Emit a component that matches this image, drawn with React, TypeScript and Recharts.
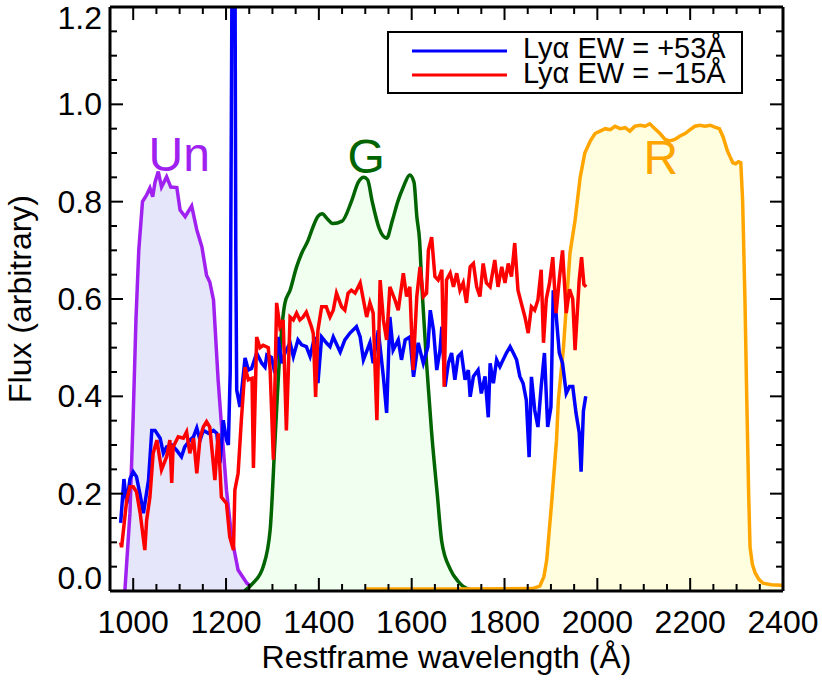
import { Area, ComposedChart, Legend, Line, ReferenceDot, XAxis, YAxis } from "recharts"

const FONT = "'Liberation Sans', Arial, Helvetica, sans-serif"

// rest-frame wavelength (Å) and flux of the two composite spectra
const blueWave = [973, 980, 986, 993, 1000, 1007, 1015, 1022, 1033, 1040, 1047, 1058, 1065, 1072, 1083, 1093, 1104, 1111, 1122, 1130, 1137, 1144, 1151, 1162, 1173, 1180, 1187, 1194, 1201, 1205, 1209, 1213, 1216, 1219, 1221, 1223, 1230, 1241, 1248, 1255, 1266, 1277, 1284, 1288, 1298, 1305, 1312, 1320, 1327, 1338, 1345, 1355, 1363, 1373, 1381, 1391, 1398, 1406, 1416, 1424, 1431, 1446, 1456, 1467, 1481, 1489, 1496, 1510, 1517, 1528, 1539, 1546, 1553, 1560, 1571, 1578, 1586, 1596, 1604, 1614, 1625, 1635, 1640, 1647, 1654, 1661, 1665, 1672, 1679, 1686, 1693, 1700, 1707, 1715, 1722, 1726, 1733, 1743, 1750, 1758, 1765, 1769, 1776, 1783, 1790, 1797, 1804, 1812, 1819, 1826, 1833, 1840, 1847, 1853, 1858, 1865, 1872, 1879, 1886, 1893, 1900, 1905, 1911, 1918, 1925, 1933, 1940, 1947, 1954, 1961, 1965, 1970, 1975]
const blueFlux = [0.14, 0.23, 0.18, 0.23, 0.245, 0.235, 0.197, 0.16, 0.228, 0.33, 0.33, 0.314, 0.283, 0.296, 0.3, 0.29, 0.276, 0.296, 0.31, 0.317, 0.335, 0.31, 0.33, 0.324, 0.33, 0.324, 0.263, 0.351, 0.31, 0.3, 0.45, 1.3, 1.6, 1.4, 0.7, 0.413, 0.378, 0.479, 0.454, 0.457, 0.489, 0.468, 0.46, 0.485, 0.48, 0.448, 0.522, 0.468, 0.489, 0.51, 0.482, 0.516, 0.506, 0.502, 0.482, 0.522, 0.427, 0.522, 0.51, 0.502, 0.522, 0.491, 0.516, 0.53, 0.543, 0.522, 0.475, 0.51, 0.468, 0.536, 0.44, 0.366, 0.563, 0.495, 0.516, 0.475, 0.516, 0.522, 0.44, 0.51, 0.468, 0.502, 0.577, 0.536, 0.454, 0.495, 0.543, 0.42, 0.468, 0.489, 0.434, 0.482, 0.489, 0.434, 0.454, 0.399, 0.441, 0.454, 0.406, 0.441, 0.357, 0.468, 0.427, 0.475, 0.461, 0.475, 0.489, 0.502, 0.489, 0.475, 0.441, 0.427, 0.392, 0.275, 0.44, 0.372, 0.337, 0.42, 0.489, 0.337, 0.378, 0.618, 0.57, 0.489, 0.468, 0.406, 0.42, 0.42, 0.366, 0.325, 0.245, 0.37, 0.4]

const redWave = [973, 975, 986, 993, 1000, 1007, 1015, 1025, 1029, 1036, 1043, 1051, 1061, 1072, 1079, 1083, 1086, 1097, 1108, 1115, 1122, 1130, 1137, 1144, 1151, 1158, 1165, 1176, 1183, 1190, 1201, 1208, 1216, 1219, 1226, 1233, 1241, 1248, 1256, 1259, 1266, 1273, 1280, 1291, 1295, 1302, 1309, 1316, 1323, 1330, 1338, 1345, 1352, 1359, 1366, 1373, 1384, 1388, 1393, 1398, 1406, 1416, 1424, 1431, 1438, 1449, 1456, 1463, 1470, 1478, 1489, 1496, 1503, 1510, 1517, 1525, 1532, 1539, 1546, 1553, 1564, 1571, 1582, 1589, 1596, 1603, 1611, 1618, 1625, 1632, 1636, 1643, 1650, 1657, 1665, 1670, 1675, 1683, 1690, 1697, 1704, 1711, 1718, 1726, 1733, 1740, 1747, 1754, 1761, 1769, 1779, 1786, 1794, 1801, 1808, 1815, 1822, 1829, 1836, 1844, 1851, 1858, 1865, 1872, 1879, 1884, 1890, 1897, 1904, 1911, 1918, 1925, 1933, 1940, 1947, 1952, 1961, 1966, 1971, 1976]
const redFlux = [0.1, 0.09, 0.187, 0.214, 0.214, 0.204, 0.16, 0.084, 0.146, 0.193, 0.283, 0.31, 0.249, 0.276, 0.31, 0.222, 0.296, 0.317, 0.314, 0.327, 0.283, 0.314, 0.242, 0.314, 0.337, 0.348, 0.337, 0.228, 0.324, 0.193, 0.18, 0.111, 0.084, 0.207, 0.242, 0.351, 0.46, 0.434, 0.437, 0.253, 0.522, 0.5, 0.505, 0.5, 0.454, 0.27, 0.592, 0.543, 0.557, 0.33, 0.563, 0.557, 0.571, 0.557, 0.563, 0.573, 0.543, 0.529, 0.399, 0.536, 0.584, 0.584, 0.563, 0.577, 0.612, 0.584, 0.577, 0.612, 0.618, 0.612, 0.633, 0.598, 0.563, 0.592, 0.571, 0.351, 0.639, 0.557, 0.516, 0.625, 0.598, 0.577, 0.653, 0.605, 0.625, 0.454, 0.605, 0.666, 0.605, 0.612, 0.7, 0.727, 0.646, 0.639, 0.66, 0.42, 0.639, 0.653, 0.625, 0.653, 0.618, 0.633, 0.592, 0.666, 0.673, 0.625, 0.605, 0.673, 0.633, 0.625, 0.68, 0.625, 0.666, 0.633, 0.673, 0.646, 0.715, 0.618, 0.592, 0.563, 0.53, 0.584, 0.577, 0.598, 0.66, 0.51, 0.6, 0.633, 0.686, 0.571, 0.64, 0.7, 0.571, 0.62, 0.6, 0.495, 0.64, 0.686, 0.63, 0.625]

// filter transmission curves
const unWave = [982, 993, 1000, 1006, 1012, 1020, 1029, 1036, 1042, 1047, 1054, 1061, 1072, 1081, 1094, 1101, 1112, 1126, 1137, 1148, 1158, 1165, 1173, 1183, 1191, 1201, 1212, 1226, 1245, 1258, 1270]
const unTrans = [0, 0.16, 0.36, 0.56, 0.7, 0.8, 0.814, 0.828, 0.81, 0.84, 0.862, 0.83, 0.851, 0.83, 0.829, 0.783, 0.769, 0.791, 0.742, 0.707, 0.649, 0.635, 0.598, 0.433, 0.33, 0.207, 0.111, 0.043, 0.016, 0.006, 0]

const gWave = [1240, 1258, 1280, 1295, 1305, 1316, 1327, 1338, 1352, 1363, 1377, 1385, 1398, 1407, 1418, 1430, 1450, 1470, 1485, 1497, 1505, 1515, 1530, 1546, 1558, 1570, 1582, 1596, 1605, 1611, 1617, 1622, 1632, 1643, 1655, 1665, 1683, 1700, 1720, 1750]
const gTrans = [0, 0.016, 0.05, 0.125, 0.3, 0.49, 0.592, 0.618, 0.666, 0.694, 0.721, 0.742, 0.77, 0.775, 0.765, 0.755, 0.76, 0.8, 0.84, 0.85, 0.845, 0.8, 0.745, 0.725, 0.76, 0.8, 0.83, 0.855, 0.84, 0.77, 0.72, 0.625, 0.468, 0.325, 0.2, 0.1, 0.045, 0.02, 0.005, 0]

const rWave = [1500, 1700, 1860, 1876, 1885, 1891, 1902, 1912, 1916, 1927, 1934, 1941, 1952, 1963, 1973, 1985, 1995, 2006, 2017, 2028, 2038, 2049, 2060, 2070, 2081, 2092, 2103, 2113, 2124, 2135, 2146, 2156, 2167, 2178, 2189, 2200, 2210, 2221, 2232, 2243, 2253, 2263, 2271, 2280, 2286, 2292, 2298, 2304, 2309, 2313, 2318, 2322, 2326, 2329, 2334, 2340, 2348, 2357, 2375, 2397, 2400]
const rTrans = [0.004, 0.004, 0.005, 0.01, 0.03, 0.064, 0.187, 0.31, 0.392, 0.5, 0.598, 0.694, 0.762, 0.85, 0.9, 0.925, 0.94, 0.945, 0.95, 0.948, 0.955, 0.95, 0.952, 0.945, 0.955, 0.957, 0.955, 0.96, 0.95, 0.94, 0.928, 0.925, 0.928, 0.935, 0.94, 0.948, 0.955, 0.957, 0.955, 0.957, 0.953, 0.95, 0.933, 0.905, 0.892, 0.88, 0.878, 0.882, 0.88, 0.803, 0.6, 0.392, 0.2, 0.09, 0.055, 0.037, 0.024, 0.016, 0.013, 0.012, 0.012]

const xTicks = [1000, 1050, 1100, 1150, 1200, 1250, 1300, 1350, 1400, 1450, 1500, 1550, 1600, 1650, 1700, 1750, 1800, 1850, 1900, 1950, 2000, 2050, 2100, 2150, 2200, 2250, 2300, 2350, 2400]
const yTicks = [0, 0.05, 0.1, 0.15, 0.2, 0.25, 0.3, 0.35, 0.4, 0.45, 0.5, 0.55, 0.6, 0.65, 0.7, 0.75, 0.8, 0.85, 0.9, 0.95, 1.0, 1.05, 1.1, 1.15, 1.2]

const legendLabels = ["Lyα EW = +53Å", "Lyα EW = −15Å"]

const toPoints = (w: number[], v: number[]) => w.map((x, i) => ({ w: x, f: v[i] }))

const blueData = toPoints(blueWave, blueFlux)
const redData = toPoints(redWave, redFlux)
const unData = toPoints(unWave, unTrans)
const gData = toPoints(gWave, gTrans)
const rData = toPoints(rWave, rTrans)

const isMajorX = (v: number) => v % 200 === 0
const isMajorY = (v: number) => Math.abs(v * 5 - Math.round(v * 5)) < 1e-6

function BottomTick(props: any) {
    const { x, y, payload } = props
    const major = isMajorX(payload.value)
    return (
        <g>
            <line x1={x} x2={x} y1={y} y2={y - (major ? 13 : 7)} stroke="#000" strokeWidth={2} />
            {major && (
                <text x={x} y={y + 42} textAnchor="middle" fontSize={32} fontFamily={FONT} fill="#000">
                    {payload.value}
                </text>
            )}
        </g>
    )
}

function TopTick(props: any) {
    const { x, y, payload } = props
    const major = isMajorX(payload.value)
    return <line x1={x} x2={x} y1={y} y2={y + (major ? 13 : 7)} stroke="#000" strokeWidth={2} />
}

function LeftTick(props: any) {
    const { x, y, payload } = props
    const v = payload.value
    const major = isMajorY(v)
    // end labels are kept inside the frame
    const cy = Math.min(Math.max(y, 18), 578)
    return (
        <g>
            <line x1={x} x2={x + (major ? 13 : 7)} y1={y} y2={y} stroke="#000" strokeWidth={2} />
            {major && (
                <text x={x - 8} y={cy + 11} textAnchor="end" fontSize={32} fontFamily={FONT} fill="#000">
                    {v.toFixed(1)}
                </text>
            )}
        </g>
    )
}

function RightTick(props: any) {
    const { x, y, payload } = props
    const major = isMajorY(payload.value)
    return <line x1={x} x2={x - (major ? 13 : 7)} y1={y} y2={y} stroke="#000" strokeWidth={2} />
}

function LegendBox() {
    return (
        <svg width={357} height={64} style={{ display: "block" }}>
            <rect x={1} y={1} width={354} height={61} fill="#fff" stroke="#000" strokeWidth={2} />
            <line x1={25} x2={120} y1={20} y2={20} stroke="#0000ff" strokeWidth={3} />
            <line x1={25} x2={120} y1={44} y2={44} stroke="#ff0000" strokeWidth={3} />
            <text x={136} y={27} fontSize={29} fontFamily={FONT} fill="#000">{legendLabels[0]}</text>
            <text x={136} y={52} fontSize={29} fontFamily={FONT} fill="#000">{legendLabels[1]}</text>
        </svg>
    )
}

export default function App() {
    return (
        <div style={{ position: "absolute", left: 0, top: 0, fontFamily: FONT }}>
            <ComposedChart width={822} height={680} margin={{ top: 0, right: 0, bottom: 0, left: 0 }}>
                <XAxis
                    dataKey="w"
                    type="number"
                    domain={[950, 2400]}
                    allowDataOverflow
                    ticks={xTicks}
                    interval={0}
                    height={89}
                    tickSize={0}
                    tickMargin={0}
                    tickLine={false}
                    axisLine={{ stroke: "#000", strokeWidth: 3 }}
                    tick={(p: any) => <BottomTick {...p} />}
                    label={{ value: "Restframe wavelength (Å)", position: "insideBottom", offset: 12, fontSize: 32, fill: "#000", fontFamily: FONT }}
                />
                <XAxis
                    xAxisId="top"
                    orientation="top"
                    dataKey="w"
                    type="number"
                    domain={[950, 2400]}
                    allowDataOverflow
                    ticks={xTicks}
                    interval={0}
                    height={7}
                    tickSize={0}
                    tickMargin={0}
                    tickLine={false}
                    axisLine={{ stroke: "#000", strokeWidth: 3 }}
                    tick={(p: any) => <TopTick {...p} />}
                />
                <YAxis
                    type="number"
                    domain={[0, 1.2]}
                    allowDataOverflow
                    ticks={yTicks}
                    interval={0}
                    width={110}
                    tickSize={0}
                    tickMargin={0}
                    tickLine={false}
                    axisLine={{ stroke: "#000", strokeWidth: 3 }}
                    tick={(p: any) => <LeftTick {...p} />}
                    label={{ value: "Flux (arbitrary)", angle: -90, position: "insideLeft", offset: 20, fontSize: 32, fill: "#000", fontFamily: FONT, style: { textAnchor: "middle" } }}
                />
                <YAxis
                    yAxisId="right"
                    orientation="right"
                    type="number"
                    domain={[0, 1.2]}
                    allowDataOverflow
                    ticks={yTicks}
                    interval={0}
                    width={39}
                    tickSize={0}
                    tickMargin={0}
                    tickLine={false}
                    axisLine={{ stroke: "#000", strokeWidth: 3 }}
                    tick={(p: any) => <RightTick {...p} />}
                />
                <Area data={unData} dataKey="f" type="linear" baseValue={0} stroke="#a020f0" strokeWidth={3.5} fill="#e6e6fa" fillOpacity={1} isAnimationActive={false} />
                <Area data={gData} dataKey="f" type="monotone" baseValue={0} stroke="#006400" strokeWidth={3.5} fill="#f0fff0" fillOpacity={1} isAnimationActive={false} />
                <Area data={rData} dataKey="f" type="linear" baseValue={0} stroke="#ffa500" strokeWidth={3.5} fill="#ffffe0" fillOpacity={1} isAnimationActive={false} />
                <Line data={blueData} dataKey="f" type="linear" stroke="#0000ff" strokeWidth={3.5} dot={false} activeDot={false} isAnimationActive={false} />
                <Line data={redData} dataKey="f" type="linear" stroke="#ff0000" strokeWidth={3.5} dot={false} activeDot={false} isAnimationActive={false} />
                <ReferenceDot x={1099} y={0.898} r={0} fill="none" stroke="none" label={{ value: "Un", position: "center", fontSize: 48, fill: "#a020f0", fontFamily: FONT }} />
                <ReferenceDot x={1502} y={0.894} r={0} fill="none" stroke="none" label={{ value: "G", position: "center", fontSize: 48, fill: "#006400", fontFamily: FONT }} />
                <ReferenceDot x={2137} y={0.892} r={0} fill="none" stroke="none" label={{ value: "R", position: "center", fontSize: 48, fill: "#ffa500", fontFamily: FONT }} />
                <Legend
                    layout="vertical"
                    align="center"
                    verticalAlign="middle"
                    width={357}
                    height={64}
                    wrapperStyle={{ left: 387, top: 31, width: 357, height: 64 }}
                    content={() => <LegendBox />}
                />
            </ComposedChart>
        </div>
    )
}
